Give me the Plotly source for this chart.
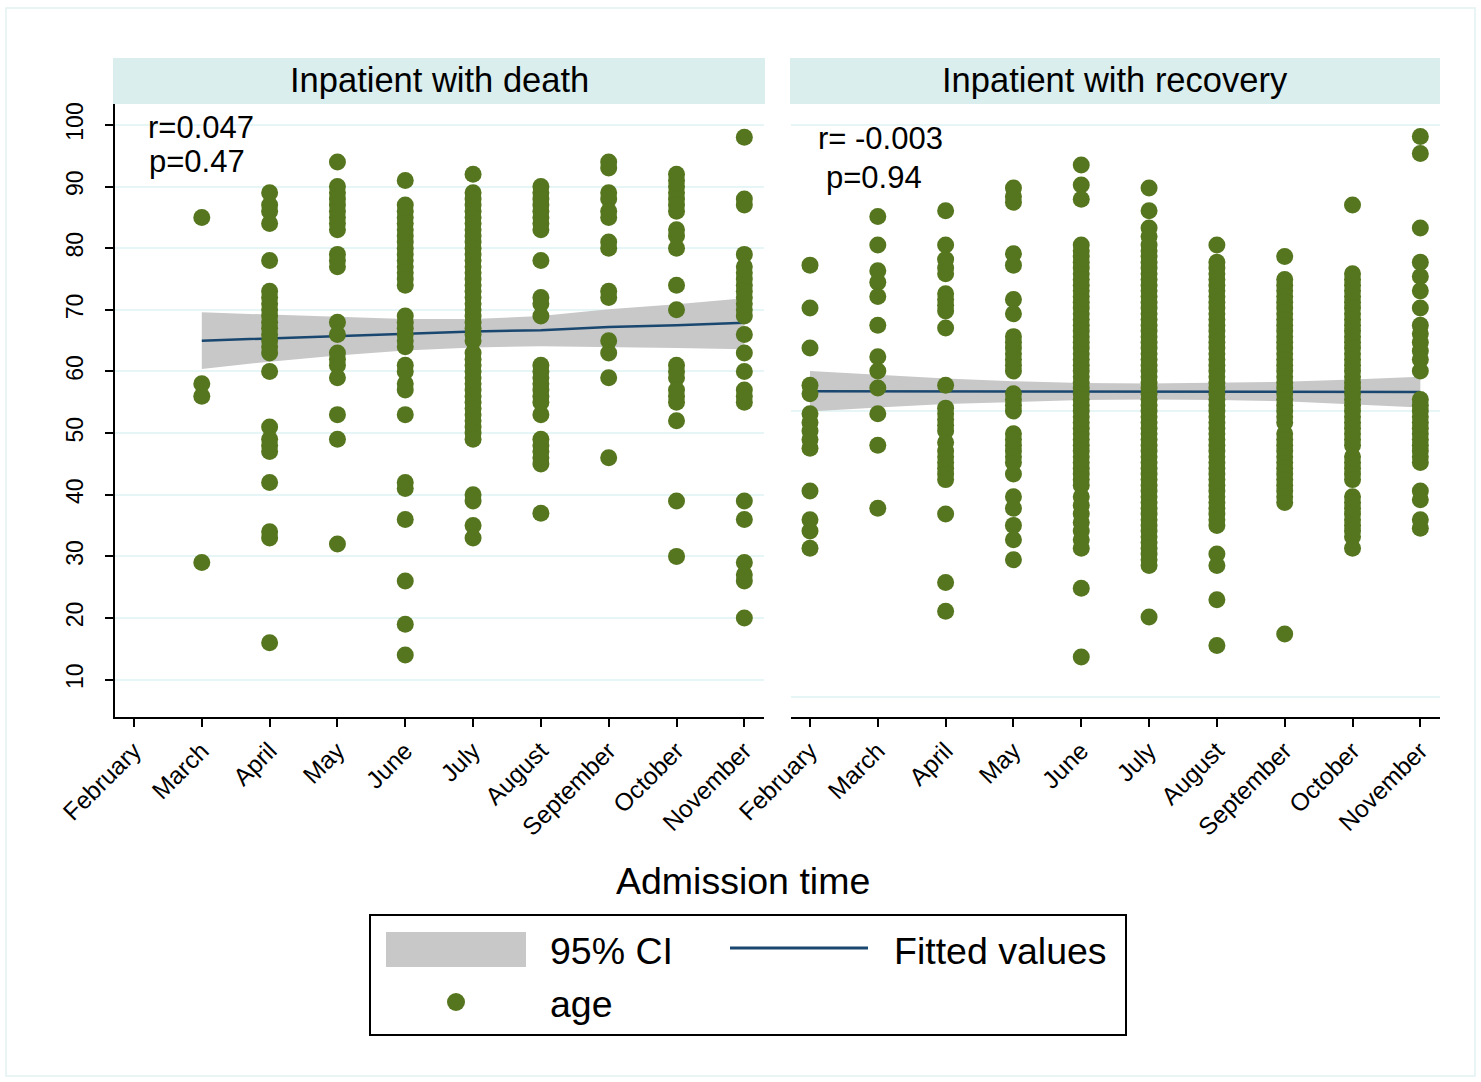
import plotly.graph_objects as go

W, H = 1481, 1082
FONT = "Liberation Sans, Arial, sans-serif"

months = ["February", "March", "April", "May", "June", "July", "August",
          "September", "October", "November"]

# ---- Inpatient with death (ages by admission month) ----
death_feb = []
death_mar = [85, 58, 56, 29]
death_apr = [89, 87, 86, 84, 78, 73, 72, 71, 70, 69, 68, 67, 66, 65, 64, 63, 60,
             51, 49, 48, 47, 42, 34, 33, 16]
death_may = [94, 90, 89, 88, 87, 86, 85, 84, 83, 79, 78, 77, 68, 66, 63, 62, 61,
             59, 53, 49, 32]
death_jun = [91, 87, 86, 85, 84, 83, 82, 81, 80, 79, 78, 77, 76, 75, 74, 69, 68,
             67, 66, 65, 64, 61, 60, 58, 57, 53, 42, 41, 36, 26, 19, 14]
death_jul = [92, 89, 88, 87, 86, 85, 84, 83, 82, 81, 80, 79, 78, 77, 76, 75, 74,
             73, 72, 71, 70, 69, 68, 67, 66, 65, 63, 62, 61, 60, 59, 58, 57, 56,
             55, 54, 53, 52, 51, 50, 49, 40, 39, 35, 33]
death_aug = [90, 89, 88, 87, 86, 85, 84, 83, 78, 72, 71, 69, 61, 60, 59, 58, 57,
             56, 55, 53, 49, 48, 47, 46, 45, 37]
death_sep = [94, 93, 89, 88, 86, 85, 81, 80, 73, 72, 65, 63, 59, 46]
death_oct = [92, 91, 90, 89, 88, 87, 86, 83, 82, 80, 74, 70, 61, 60, 59, 57, 56,
             55, 52, 39, 30]
death_nov = [98, 88, 87, 79, 77, 76, 75, 74, 73, 72, 71, 70, 69, 66, 63, 60, 57,
             56, 55, 39, 36, 29, 27, 26, 20]

death_fit_x = [1, 2, 3, 4, 5, 6, 7, 8, 9]
death_fit = [65.0, 65.4, 65.7, 66.1, 66.5, 66.7, 67.2, 67.5, 67.9]
death_ci_hi = [69.6, 69.2, 68.8, 68.5, 68.5, 69.0, 70.1, 70.9, 71.9]
death_ci_lo = [60.4, 61.6, 62.6, 63.4, 63.9, 64.1, 64.0, 63.8, 63.6]

# ---- Inpatient with recovery ----
rec_feb = [75.5, 68, 61, 54.5, 53, 49.5, 48, 46.5, 45, 43.5, 36, 31, 29, 26]
rec_mar = [84, 79, 74.5, 72.5, 70, 65, 59.5, 57, 54, 49.5, 44, 33]
rec_apr = [85, 79, 76.5, 75, 74, 70.5, 69.5, 68.5, 67.5, 64.5, 54.5, 50.5, 49.5,
           48.5, 47.5, 46.5, 44.5, 43, 42, 41, 40, 39, 38, 32, 20, 15]
rec_may = [89, 87.5, 86.5, 77.5, 75.5, 69.5, 67, 63, 62, 61, 60, 59, 58, 57, 53,
           52, 51, 50, 46, 45, 44, 43, 42, 41, 39, 35, 33, 30, 27.5, 24]
rec_jun = [93, 89.5, 87, 79, 78, 77, 76, 75, 74, 73, 72, 71, 70, 69, 68, 67, 66,
           65, 64, 63, 62, 61, 60, 59, 58, 57, 56, 55, 54, 53, 52, 51, 50, 49,
           48, 47, 46, 45, 44, 43, 42, 41, 40, 39, 38, 37, 35, 33.5, 32, 30.5,
           29, 27.5, 26, 19, 7]
rec_jul = [89, 85, 82, 80.5, 79, 78, 77, 76, 75, 74, 73, 72, 71, 70, 69, 68, 67,
           66, 65, 64, 63, 62, 61, 60, 59, 58, 57, 56, 55, 54, 53, 52, 51, 50,
           49, 48, 47, 46, 45, 44, 43, 42, 41, 40, 39, 38, 37, 36, 35, 34, 33,
           32, 31, 30, 29, 28, 27, 26, 25, 24, 23, 14]
rec_aug = [79, 76, 75, 74, 73, 72, 71, 70, 69, 68, 67, 66, 65, 64, 63, 62, 61,
           60, 59, 58, 57, 56, 55, 54, 53, 52, 51, 50, 49, 48, 47, 46, 45, 44,
           43, 42, 41, 40, 39, 38, 37, 36, 35, 34, 33, 32, 31, 30, 25, 23, 17, 9]
rec_sep = [77, 73, 72, 71, 70, 69, 68, 67, 66, 65, 64, 63, 62, 61, 60, 59, 58,
           57, 56, 55, 54, 53, 52, 51, 50, 49, 48, 46, 45, 44, 43, 42, 41, 40,
           39, 38, 37, 36, 35, 34, 11]
rec_oct = [86, 74, 73, 72, 71, 70, 69, 68, 67, 66, 65, 64, 63, 62, 61, 60, 59,
           58, 57, 56, 55, 54, 53, 52, 51, 50, 49, 48, 47, 46, 45, 44, 42, 41,
           40, 39, 38, 35, 34, 33, 32, 31, 30, 29, 28, 26]
rec_nov = [98, 95, 82, 76, 73.5, 71, 68, 65, 63.5, 62, 60.5, 59, 57, 52, 51, 50,
           49, 48, 47, 46, 45, 44, 43, 42, 41, 36, 34.5, 31, 29.5]

rec_fit_x = [0, 1, 2, 3, 4, 5, 6, 7, 8, 9]
rec_fit = [53.45, 53.44, 53.43, 53.42, 53.41, 53.40, 53.38, 53.36, 53.34, 53.32]
rec_ci_hi = [57.0, 56.3, 55.7, 55.2, 54.9, 54.8, 54.9, 55.1, 55.5, 56.0]
rec_ci_lo = [49.9, 50.6, 51.2, 51.6, 51.9, 52.0, 51.9, 51.7, 51.2, 50.6]

death_cols = [death_feb, death_mar, death_apr, death_may, death_jun, death_jul,
              death_aug, death_sep, death_oct, death_nov]
rec_cols = [rec_feb, rec_mar, rec_apr, rec_may, rec_jun, rec_jul, rec_aug,
            rec_sep, rec_oct, rec_nov]

GREEN = "#55761e"
NAVY = "#1a476f"
GRAY = "#c8c8c8"
GRID = "#e6f6f6"


def flatten(cols):
    xs, ys = [], []
    for i, c in enumerate(cols):
        xs += [i] * len(c)
        ys += c
    return xs, ys


def px(p):
    return p / W


def py(p):
    return 1 - p / H


fig = go.Figure()

for cols, fx, fy, lo, hi, xa, ya in [
    (death_cols, death_fit_x, death_fit, death_ci_lo, death_ci_hi, "x", "y"),
    (rec_cols, rec_fit_x, rec_fit, rec_ci_lo, rec_ci_hi, "x2", "y2"),
]:
    fig.add_trace(go.Scatter(
        x=fx + fx[::-1], y=hi + lo[::-1], fill="toself", fillcolor=GRAY,
        line=dict(width=0), mode="lines", xaxis=xa, yaxis=ya,
        showlegend=False, hoverinfo="skip"))
    fig.add_trace(go.Scatter(
        x=fx, y=fy, mode="lines", line=dict(color=NAVY, width=2.5),
        xaxis=xa, yaxis=ya, showlegend=False))
    xs, ys = flatten(cols)
    fig.add_trace(go.Scatter(
        x=xs, y=ys, mode="markers", marker=dict(color=GREEN, size=17),
        xaxis=xa, yaxis=ya, showlegend=False))

yd = [py(717), py(104)]
xcommon = dict(range=[-0.28, 9.29], tickvals=list(range(10)), ticktext=months,
               tickangle=-45, showline=True, linecolor="black", linewidth=1.5,
               ticks="outside", ticklen=8, tickwidth=1.5, tickcolor="black",
               showgrid=False, zeroline=False, automargin=False,
               tickfont=dict(family=FONT, size=24.5, color="black"))

fig.update_layout(
    template="none",
    width=W, height=H, margin=dict(l=0, r=0, t=0, b=0, pad=0),
    paper_bgcolor="white", plot_bgcolor="white",
    xaxis=dict(domain=[px(115), px(764)], anchor="y", **xcommon),
    xaxis2=dict(domain=[px(791), px(1440)], anchor="y2", **xcommon),
    yaxis=dict(domain=yd, anchor="x", range=[3.94, 103.4],
               tickvals=[10, 20, 30, 40, 50, 60, 70, 80, 90, 100],
               tickangle=-90, showline=True, linecolor="black", linewidth=1.5,
               ticks="outside", ticklen=8, tickwidth=1.5, tickcolor="black",
               showgrid=True, gridcolor=GRID, gridwidth=1.5, zeroline=False,
               ticklabelstandoff=13, automargin=False,
               tickfont=dict(family=FONT, size=23, color="black")),
    yaxis2=dict(domain=yd, anchor="x2", range=[-3.5, 103.67],
                tickvals=[0, 50, 100], showticklabels=False, ticks="",
                showline=False, showgrid=True, gridcolor=GRID, gridwidth=1.5,
                zeroline=False, automargin=False),
    showlegend=False,
)

shapes = []
annos = []
# outer frame
shapes.append(dict(type="rect", xref="paper", yref="paper", x0=px(6), x1=px(1475),
                   y0=py(1076), y1=py(8), line=dict(color="#e2f2f2", width=1.5)))
# strips
for x0, x1, title in [(113, 765, "Inpatient with death"),
                      (790, 1440, "Inpatient with recovery")]:
    shapes.append(dict(type="rect", xref="paper", yref="paper", x0=px(x0), x1=px(x1),
                       y0=py(104), y1=py(58), fillcolor="#dbeeee",
                       line=dict(width=0), layer="below"))
    annos.append(dict(text=title, xref="paper", yref="paper", x=px((x0 + x1) / 2),
                      y=py(80), xanchor="center", yanchor="middle", showarrow=False,
                      font=dict(family=FONT, size=34.5, color="black")))

# r / p annotations
for txt, x, y in [("r=0.047", 146, 127), ("p=0.47", 147, 161),
                  ("r= -0.003", 816, 138), ("p=0.94", 824, 178)]:
    annos.append(dict(text=txt, xref="paper", yref="paper", x=px(x), y=py(y),
                      xanchor="left", yanchor="middle", showarrow=False,
                      font=dict(family=FONT, size=31, color="black")))

# x title
annos.append(dict(text="Admission time", xref="paper", yref="paper", x=px(743),
                  y=py(881), xanchor="center", yanchor="middle", showarrow=False,
                  font=dict(family=FONT, size=37.5, color="black")))

# legend
shapes.append(dict(type="rect", xref="paper", yref="paper", x0=px(370), x1=px(1126),
                   y0=py(1035), y1=py(915), line=dict(color="black", width=2),
                   fillcolor="white"))
shapes.append(dict(type="rect", xref="paper", yref="paper", x0=px(386), x1=px(526),
                   y0=py(967), y1=py(932), fillcolor=GRAY, line=dict(width=0)))
shapes.append(dict(type="line", xref="paper", yref="paper", x0=px(730), x1=px(868),
                   y0=py(948), y1=py(948), line=dict(color=NAVY, width=3)))
shapes.append(dict(type="circle", xref="paper", yref="paper", x0=px(447), x1=px(465),
                   y0=py(1011), y1=py(993), fillcolor=GREEN, line=dict(width=0)))
for txt, x, y in [("95% CI", 548, 951), ("Fitted values", 892, 951), ("age", 548, 1004)]:
    annos.append(dict(text=txt, xref="paper", yref="paper", x=px(x), y=py(y),
                      xanchor="left", yanchor="middle", showarrow=False,
                      font=dict(family=FONT, size=37.5, color="black")))

fig.update_layout(shapes=shapes, annotations=annos)
fig.write_html("out.html", config={"displayModeBar": False},
               post_script="document.body.style.margin='0';"
                           "document.body.style.overflow='hidden';")
